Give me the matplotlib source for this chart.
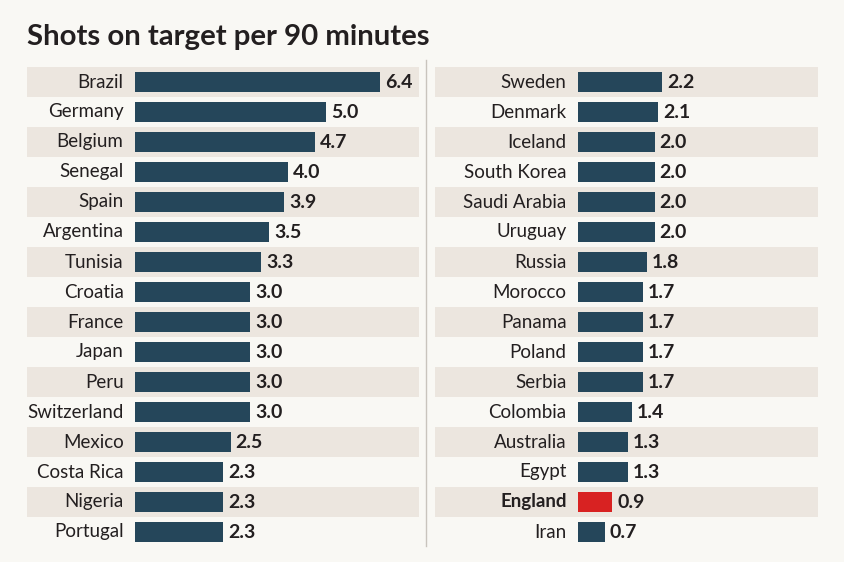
import matplotlib.pyplot as plt
from matplotlib.lines import Line2D

plt.rcParams['font.family'] = ['Lato', 'DejaVu Sans']

left_teams = ["Brazil", "Germany", "Belgium", "Senegal", "Spain", "Argentina",
              "Tunisia", "Croatia", "France", "Japan", "Peru", "Switzerland",
              "Mexico", "Costa Rica", "Nigeria", "Portugal"]
left_values = [6.4, 5.0, 4.7, 4.0, 3.9, 3.5, 3.3, 3.0, 3.0, 3.0, 3.0, 3.0,
               2.5, 2.3, 2.3, 2.3]

right_teams = ["Sweden", "Denmark", "Iceland", "South Korea", "Saudi Arabia",
               "Uruguay", "Russia", "Morocco", "Panama", "Poland", "Serbia",
               "Colombia", "Australia", "Egypt", "England", "Iran"]
right_values = [2.2, 2.1, 2.0, 2.0, 2.0, 2.0, 1.8, 1.7, 1.7, 1.7, 1.7,
                1.4, 1.3, 1.3, 0.9, 0.7]

highlight = "England"

BG = "#f9f8f4"
STRIPE = "#ece6df"
BAR = "#25465a"
RED = "#d82222"
TXT = "#231f20"

W, H = 845, 562
PX = 38.3  # pixels per unit


def panel(fig, x0, x1, bar_x, teams, values):
    top, bottom = 67, 547
    ax = fig.add_axes([x0 / W, (H - bottom) / H, (x1 - x0) / W, (bottom - top) / H])
    ax.set_facecolor(BG)
    lo = -(bar_x - x0) / PX
    ax.set_xlim(lo, lo + (x1 - x0) / PX)
    n = len(teams)
    ax.set_ylim(n - 0.5, -0.5)
    for i, (t, v) in enumerate(zip(teams, values)):
        if i % 2 == 0 and i < n - 1:
            ax.axhspan(i - 0.5, i + 0.5, color=STRIPE, lw=0, zorder=0)
        hl = t == highlight
        ax.barh(i, v, height=0.66, color=RED if hl else BAR, zorder=2)
        ax.text(-0.3, i, t, ha="right", va="center", fontsize=13.5, color=TXT,
                fontweight="bold" if hl else "normal")
        ax.text(v + 0.13, i, f"{v:.1f}", ha="left", va="center", fontsize=14,
                color=TXT, fontweight="bold")
    ax.axis("off")
    return ax


fig = plt.figure(figsize=(W / 100, H / 100), dpi=100)
fig.patch.set_facecolor(BG)

panel(fig, 27, 419, 135, left_teams, left_values)
panel(fig, 435, 818, 578, right_teams, right_values)

fig.add_artist(Line2D([426 / W, 426 / W], [1 - 60 / H, 1 - 546 / H],
                      color="#c9c4bd", lw=1))

fig.text(27 / W, 1 - 37 / H, "Shots on target per 90 minutes", ha="left",
         va="center", fontsize=21.2, fontweight="bold", color=TXT)

fig.savefig("out.png", dpi=100, facecolor=BG)
